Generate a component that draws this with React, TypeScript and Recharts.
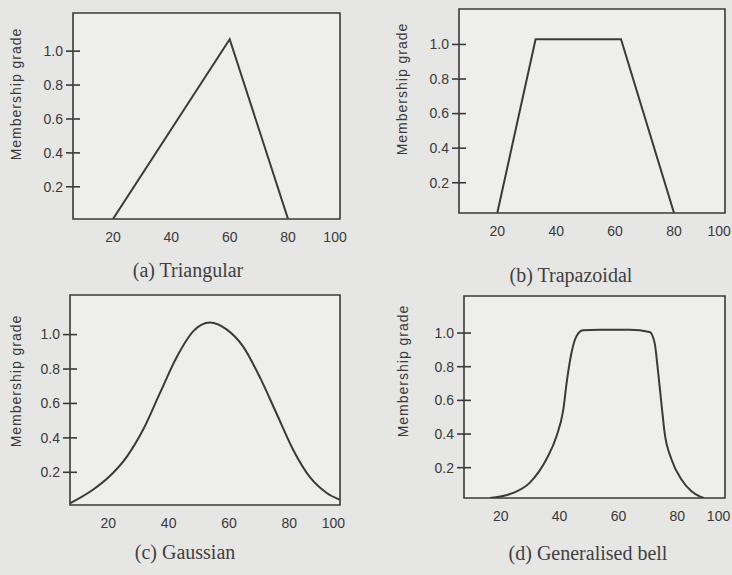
import React from 'react';
import { LineChart, Line, XAxis, YAxis, ReferenceArea } from 'recharts';

// membership functions
const triangularX = [20, 60, 80];
const triangularY = [0.01, 1.07, 0.01];

const trapezoidalX = [20, 33, 62, 80];
const trapezoidalY = [0.025, 1.03, 1.03, 0.025];

const gaussianX = [7.3, 15, 20.6, 26.1, 31.6, 37.1, 42.7, 48.2, 53.7, 59.2, 64.7, 70.3, 75.8, 81.3, 86.9, 92.4, 96.8];
const gaussianY = [0.02, 0.1, 0.18, 0.29, 0.45, 0.66, 0.87, 1.02, 1.07, 1.03, 0.93, 0.75, 0.54, 0.33, 0.17, 0.08, 0.04];

const bellX = [16.3, 24.2, 29.8, 35.5, 38.9, 41.2, 42.5, 44, 45.7, 47.9, 53.6, 63.8, 70.6, 72.3, 73.4, 74.6, 75.7, 78, 81.4, 84.8, 87.6, 89];
const bellY = [0.02, 0.05, 0.11, 0.25, 0.385, 0.54, 0.72, 0.88, 0.98, 1.016, 1.02, 1.02, 1.006, 0.94, 0.78, 0.58, 0.405, 0.25, 0.13, 0.06, 0.03, 0.02];

const yTicks = [0.2, 0.4, 0.6, 0.8, 1.0];
const xTickLabels = ['20', '40', '60', '80', '100'];
// the printed "100" sits left of where a linear axis would put it
const xTicksA = [20, 40, 60, 80, 96.1];
const xTicksB = [20, 40, 60, 80, 95.3];
const xTicksC = [20, 40, 60, 80, 94.6];
const xTicksD = [20, 40, 60, 80, 94.0];

const INK = '#3a3a3a';
const PAPER = '#e6e6e4';
const PLOT_BG = '#eeeeec';
const Y_AXIS_W = 70;
const TOP = 5;

const toPoints = (xs: number[], ys: number[]) => xs.map((x, i) => ({ x, y: ys[i] }));

function YTick(props: any) {
  const { y, payload } = props;
  return (
    <g>
      <line x1={Y_AXIS_W - 7} x2={Y_AXIS_W + 7} y1={y} y2={y} stroke={INK} strokeWidth={1.6} />
      <text x={Y_AXIS_W - 10} y={y} dy="0.35em" textAnchor="end" fontSize={14} fill={INK}
        fontFamily="'Liberation Sans', Arial, sans-serif">
        {payload.value.toFixed(1)}
      </text>
    </g>
  );
}

function XTick(props: any) {
  const { x, index, baseY } = props;
  return (
    <text x={x} y={baseY + 18} dy="0.35em" textAnchor="middle" fontSize={14} fill={INK}
      fontFamily="'Liberation Sans', Arial, sans-serif">
      {xTickLabels[index]}
    </text>
  );
}

interface PanelProps {
  left: number;
  top: number;
  boxW: number;
  boxH: number;
  xDomain: [number, number];
  yDomain: [number, number];
  xTicks: number[];
  data: { x: number; y: number }[];
  smooth?: boolean;
  labelX: number;
  caption: string;
  captionX: number;
  captionY: number;
}

function Panel({ left, top, boxW, boxH, xDomain, yDomain, xTicks, data, smooth, labelX, caption, captionX, captionY }: PanelProps) {
  const width = Y_AXIS_W + boxW + 12;
  const height = TOP + boxH + 30;
  const midY = TOP + boxH / 2;
  return (
    <>
      <div style={{ position: 'absolute', left, top }}>
        <LineChart width={width} height={height} data={data} margin={{ top: TOP, right: 12, bottom: 0, left: 0 }}>
          <XAxis
            dataKey="x"
            type="number"
            domain={xDomain}
            ticks={xTicks}
            allowDataOverflow
            axisLine={false}
            tickLine={false}
            height={30}
            interval={0}
            tick={<XTick baseY={TOP + boxH} />}
          />
          <YAxis
            type="number"
            domain={yDomain}
            ticks={yTicks}
            allowDataOverflow
            axisLine={false}
            tickLine={false}
            width={Y_AXIS_W}
            interval={0}
            tick={<YTick />}
            label={
              <text
                x={labelX}
                y={midY}
                transform={`rotate(-90, ${labelX}, ${midY})`}
                textAnchor="middle"
                dy="0.35em"
                fontSize={14}
                letterSpacing={1}
                fill={INK}
                fontFamily="'Liberation Sans', Arial, sans-serif"
              >
                Membership grade
              </text>
            }
          />
          <ReferenceArea
            x1={xDomain[0]}
            x2={xDomain[1]}
            y1={yDomain[0]}
            y2={yDomain[1]}
            fill={PLOT_BG}
            fillOpacity={1}
            stroke={INK}
            strokeWidth={1.6}
            ifOverflow="visible"
          />
          <Line
            dataKey="y"
            type={smooth ? 'monotone' : 'linear'}
            stroke={INK}
            strokeWidth={2}
            dot={false}
            activeDot={false}
            isAnimationActive={false}
          />
        </LineChart>
      </div>
      <div
        style={{
          position: 'absolute',
          left: captionX - 120,
          width: 240,
          top: captionY - 13,
          textAlign: 'center',
          fontFamily: "'Liberation Serif', 'Times New Roman', serif",
          fontSize: 20,
          lineHeight: '26px',
          color: '#404040',
        }}
      >
        {caption}
      </div>
    </>
  );
}

export default function App() {
  return (
    <div style={{ position: 'absolute', left: 0, top: 0, width: 732, height: 575, background: PAPER, overflow: 'hidden' }}>
      <Panel left={3} top={8} boxW={267} boxH={206} xDomain={[6.3, 97.8]} yDomain={[0.01, 1.225]} xTicks={xTicksA}
        data={toPoints(triangularX, triangularY)} labelX={13} caption="(a) Triangular" captionX={188} captionY={270} />
      <Panel left={389} top={4} boxW={266} boxH={204} xDomain={[7, 97.3]} yDomain={[0.025, 1.205]} xTicks={xTicksB}
        data={toPoints(trapezoidalX, trapezoidalY)} labelX={13} caption="(b) Trapazoidal" captionX={571} captionY={275} />
      <Panel left={0} top={290} boxW={270} boxH={210} xDomain={[7.3, 96.8]} yDomain={[0.01, 1.23]} xTicks={xTicksC}
        data={toPoints(gaussianX, gaussianY)} smooth labelX={16} caption="(c) Gaussian" captionX={185} captionY={552} />
      <Panel left={394} top={291} boxW={261} boxH={202} xDomain={[7.5, 96.2]} yDomain={[0.02, 1.22]} xTicks={xTicksD}
        data={toPoints(bellX, bellY)} smooth labelX={9} caption="(d) Generalised bell" captionX={588} captionY={553} />
    </div>
  );
}
